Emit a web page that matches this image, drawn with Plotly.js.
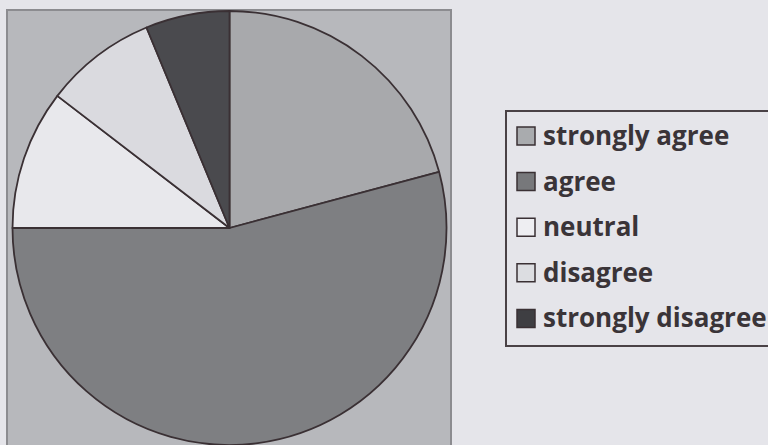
<!DOCTYPE html>
<html>
<head>
<meta charset="utf-8">
<script src="https://cdn.plot.ly/plotly-3.0.1.min.js"></script>
<style>html,body{margin:0;padding:0;background:#e5e5ea;}#chart{width:768px;height:445px;}</style>
</head>
<body>
<div id="chart"></div>
<script>
// Data
const categories = ["strongly agree", "agree", "neutral", "disagree", "strongly disagree"];
const counts = [10, 26, 5, 4, 3];
const sliceColors = ["#a8a9ac", "#7e7f82", "#e8e8ec", "#dadadf", "#4a4a4e"];
const swatchColors = ["#a9abae", "#77787b", "#eeeef2", "#dcdde1", "#3e3e42"];

const W = 768, H = 445;
const px = v => v / W;
const py = v => 1 - v / H;

const shapes = [];
// grey chart area box
shapes.push({type: "rect", xref: "paper", yref: "paper",
  x0: px(7), x1: px(451), y0: -0.1, y1: py(10),
  fillcolor: "#b7b8bc", line: {color: "#8c8c90", width: 2}, layer: "below"});
// legend box
shapes.push({type: "rect", xref: "paper", yref: "paper",
  x0: px(506), x1: px(800), y0: py(346), y1: py(111),
  fillcolor: "rgba(0,0,0,0)", line: {color: "#4a4246", width: 2}, layer: "above"});

const annotations = [];
const step = 45.6, y0c = 136;
categories.forEach((c, i) => {
  const yc = y0c + i * step;
  shapes.push({type: "rect", xref: "paper", yref: "paper",
    x0: px(517), x1: px(535), y0: py(yc + 9), y1: py(yc - 9),
    fillcolor: swatchColors[i], line: {color: "#3a3034", width: 1.5}, layer: "above"});
  annotations.push({xref: "paper", yref: "paper", x: px(541), y: py(yc - 1),
    xanchor: "left", yanchor: "middle", showarrow: false, text: c,
    font: {family: "Open Sans", size: 26, weight: "bold", color: "#3a3438"}});
});

const trace = {
  type: "pie",
  labels: categories,
  values: counts,
  sort: false,
  direction: "clockwise",
  rotation: 0,
  textinfo: "none",
  hoverinfo: "label+value",
  showlegend: false,
  marker: {colors: sliceColors, line: {color: "#3a3034", width: 1.8}},
  domain: {x: [px(12.5), px(446.5)], y: [0, 434 / H]}
};

const layout = {
  width: W, height: H,
  margin: {l: 0, r: 0, t: 0, b: 0},
  paper_bgcolor: "#e5e5ea",
  plot_bgcolor: "#e5e5ea",
  showlegend: false,
  shapes: shapes,
  annotations: annotations
};

Plotly.newPlot("chart", [trace], layout, {displayModeBar: false, staticPlot: true});
</script>
</body>
</html>
